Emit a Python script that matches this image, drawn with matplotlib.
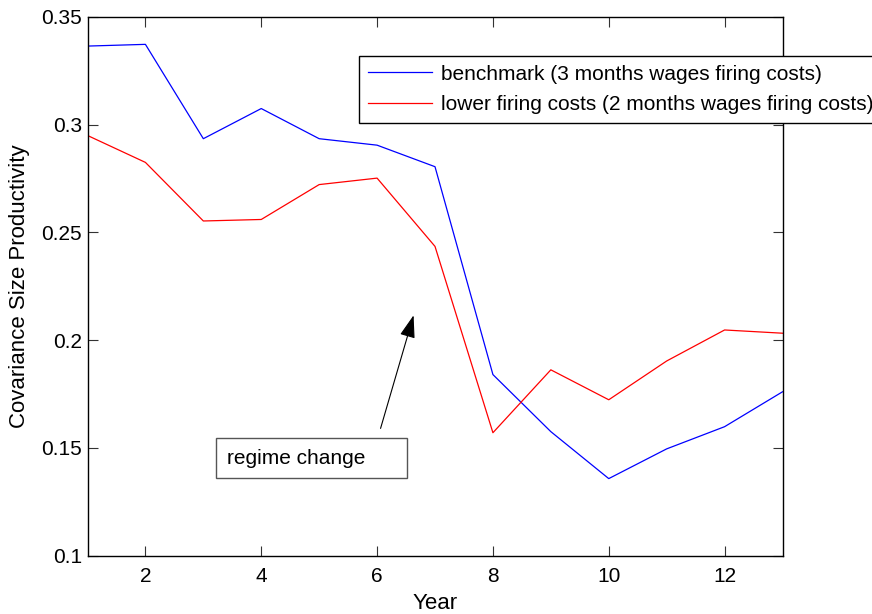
import numpy as np
import matplotlib
matplotlib.use('Agg')
import matplotlib.pyplot as plt
from matplotlib.patches import Rectangle

# values
years = np.arange(1, 14)
benchmark = [0.3365, 0.3373, 0.2935, 0.3075, 0.2935, 0.2905, 0.2805,
             0.1840, 0.1575, 0.1357, 0.1495, 0.1598, 0.1760]
lower_fc = [0.2950, 0.2825, 0.2553, 0.2560, 0.2722, 0.2752, 0.2435,
            0.1570, 0.1862, 0.1723, 0.1903, 0.2047, 0.2032]
legend_labels = ['benchmark (3 months wages firing costs)',
                 'lower firing costs (2 months wages firing costs)']
x_ticks = [2, 4, 6, 8, 10, 12]
y_ticks = [0.1, 0.15, 0.2, 0.25, 0.3, 0.35]
y_tick_labels = ['0.1', '0.15', '0.2', '0.25', '0.3', '0.35']

plt.rcParams['font.family'] = ['Liberation Sans', 'DejaVu Sans']
fs = 15

W, H = 872, 614
fig = plt.figure(figsize=(W / 100, H / 100), dpi=100)
ax = fig.add_axes([87.5 / W, 1 - 555.5 / H, 695 / W, 538.5 / H])

l1, = ax.plot(years, benchmark, color='#0000ff', lw=0.9)
l2, = ax.plot(years, lower_fc, color='#ff0000', lw=0.9)

ax.set_xlim(1, 13)
ax.set_ylim(0.1, 0.35)
ax.set_xticks(x_ticks)
ax.set_yticks(y_ticks)
ax.set_yticklabels(y_tick_labels)
ax.tick_params(direction='in', length=7, width=0.8, top=True, right=True,
               labelsize=fs, color='#333333')
ax.tick_params(axis='y', pad=4)
ax.tick_params(axis='x', pad=8)
for s in ax.spines.values():
    s.set_linewidth(1.0)

ax.set_xlabel('Year', fontsize=16, labelpad=5)
ax.set_ylabel('Covariance Size Productivity', fontsize=16, labelpad=8)

# annotation arrow
ax.annotate('', xy=(6.63, 0.2115), xytext=(6.06, 0.159),
            arrowprops=dict(arrowstyle='-|>,head_length=1.0,head_width=0.34',
                            mutation_scale=14, color='black', lw=0.8,
                            shrinkA=0, shrinkB=0))

# text box (figure-relative like a MATLAB annotation)
fig.patches.append(Rectangle((216 / W, 1 - 478 / H), 191 / W, 40 / H,
                             transform=fig.transFigure, fill=False,
                             edgecolor='#555555', lw=1.0))
fig.text(227 / W, 1 - 459 / H, 'regime change', fontsize=fs, va='center', ha='left')

# legend runs off the right edge, as in the original
leg = fig.legend([l1, l2], legend_labels, loc='upper left',
                 bbox_to_anchor=(359 / W, 1 - 56 / H), fontsize=fs,
                 handlelength=3.1, handletextpad=0.4, borderpad=0.42,
                 labelspacing=0.55, borderaxespad=0, fancybox=False,
                 framealpha=1)
leg.get_frame().set_edgecolor('black')
leg.get_frame().set_linewidth(1.0)

fig.savefig('out.png', dpi=100)
